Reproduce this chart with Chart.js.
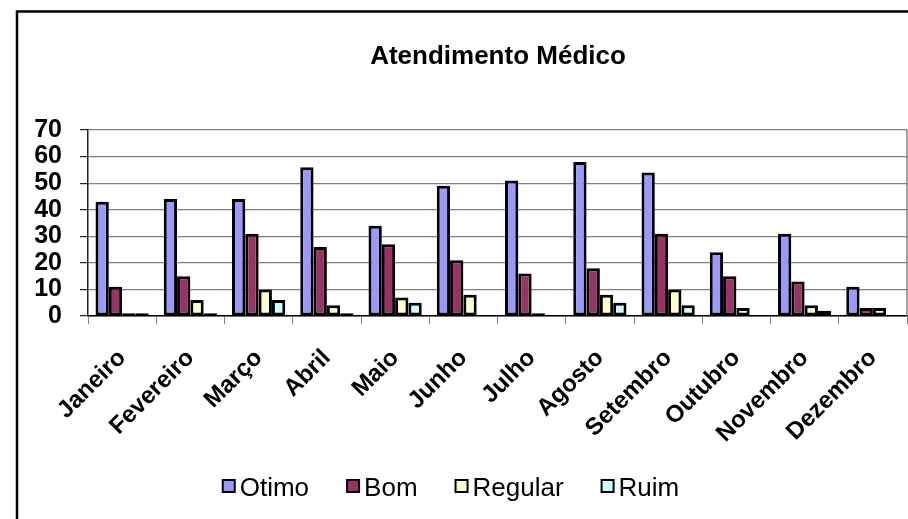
<!DOCTYPE html>
<html>
<head>
<meta charset="utf-8">
<script src="https://cdn.jsdelivr.net/npm/chart.js@4.4.0/dist/chart.umd.min.js"></script>
<style>
html,body{margin:0;padding:0;background:#fff;}
#wrap{width:908px;height:519px;position:relative;}
</style>
</head>
<body>
<div id="wrap"><canvas id="c" width="908" height="519"></canvas></div>
<script>
const chartTitle = 'Atendimento Médico';
const months = ['Janeiro','Fevereiro','Março','Abril','Maio','Junho','Julho','Agosto','Setembro','Outubro','Novembro','Dezembro'];
const otimo   = [43, 44, 44, 56, 34, 49, 51, 58, 54, 24, 31, 11];
const bom     = [11, 15, 31, 26, 27, 21, 16, 18, 31, 15, 13, 3];
const regular = [1, 6, 10, 4, 7, 8, 1, 8, 10, 3, 4, 3];
const ruim    = [1, 1, 6, 1, 5, 0, 0, 5, 4, 0, 2, 0];
const yTicks  = [0, 10, 20, 30, 40, 50, 60, 70];

const FONT = '"Liberation Sans", Arial, sans-serif';

const frame = {
  id: 'frame',
  beforeDraw(chart) {
    const ctx = chart.ctx;
    ctx.save();
    ctx.fillStyle = '#fff';
    ctx.fillRect(0, 0, chart.width, chart.height);
    ctx.restore();
  },
  afterDraw(chart) {
    const ctx = chart.ctx;
    const a = chart.chartArea;
    ctx.save();
    // outer border
    ctx.strokeStyle = '#000';
    ctx.lineWidth = 2.5;
    ctx.beginPath();
    ctx.moveTo(17, chart.height + 5);
    ctx.lineTo(17, 11.5);
    ctx.lineTo(chart.width + 5, 11.5);
    ctx.stroke();
    // plot right border
    ctx.strokeStyle = '#808080';
    ctx.lineWidth = 1.5;
    ctx.beginPath();
    ctx.moveTo(a.right, a.top);
    ctx.lineTo(a.right, a.bottom);
    ctx.stroke();
    // title
    ctx.fillStyle = '#000';
    ctx.font = 'bold 26px ' + FONT;
    ctx.textAlign = 'center';
    ctx.textBaseline = 'alphabetic';
    ctx.fillText(chartTitle, 498, 64);
    // legend
    ctx.font = '26px ' + FONT;
    ctx.textAlign = 'left';
    const box = 12, gap = 5, spacing = 38;
    const items = chart.data.datasets.map(d => ({label: d.label, color: d.backgroundColor, w: ctx.measureText(d.label).width}));
    const total = items.reduce((s, it) => s + box + gap + it.w, 0) + spacing * (items.length - 1);
    let x = 451 - total / 2;
    const base = 496;
    items.forEach(it => {
      ctx.fillStyle = it.color;
      ctx.fillRect(x, base - 16, box, box);
      ctx.strokeStyle = '#000';
      ctx.lineWidth = 2;
      ctx.strokeRect(x, base - 16, box, box);
      ctx.fillStyle = '#000';
      ctx.fillText(it.label, x + box + gap, base);
      x += box + gap + it.w + spacing;
    });
    ctx.restore();
  }
};

const mk = (label, data, color) => ({
  label, data, backgroundColor: color, borderColor: '#000', borderWidth: 3,
  borderSkipped: false, categoryPercentage: 0.78, barPercentage: 1.0
});

new Chart(document.getElementById('c'), {
  type: 'bar',
  data: {
    labels: months,
    datasets: [
      mk('Otimo', otimo, '#9999FF'),
      mk('Bom', bom, '#993366'),
      mk('Regular', regular, '#FFFFCC'),
      mk('Ruim', ruim, '#CCFFFF')
    ]
  },
  options: {
    responsive: false,
    animation: false,
    devicePixelRatio: 1,
    layout: { padding: { left: 0, right: 1, top: 130, bottom: 0 } },
    plugins: { legend: { display: false }, title: { display: false }, tooltip: { enabled: false } },
    scales: {
      x: {
        offset: true,
        grid: { display: true, drawOnChartArea: false, drawTicks: true, tickLength: 8, tickColor: '#808080', offset: true },
        border: { display: true, color: '#000', width: 1.5 },
        ticks: {
          color: '#000', font: { family: FONT, size: 24, weight: 'bold' },
          minRotation: 45, maxRotation: 45, autoSkip: false, padding: 20
        },
        afterFit(s) { s.height = 203; s.paddingLeft = 0; s.paddingRight = 0; }
      },
      y: {
        min: 0, max: 70,
        afterBuildTicks(s) { s.ticks = yTicks.map(v => ({ value: v })); },
        grid: { color: '#808080', lineWidth: 1.2, drawTicks: true, tickLength: 8, tickColor: '#222' },
        border: { display: true, color: '#222', width: 1.5 },
        ticks: { color: '#000', font: { family: FONT, size: 25, weight: 'bold' }, padding: 18, autoSkip: false },
        afterFit(s) { s.width = 88; }
      }
    }
  },
  plugins: [frame]
});
</script>
</body>
</html>
